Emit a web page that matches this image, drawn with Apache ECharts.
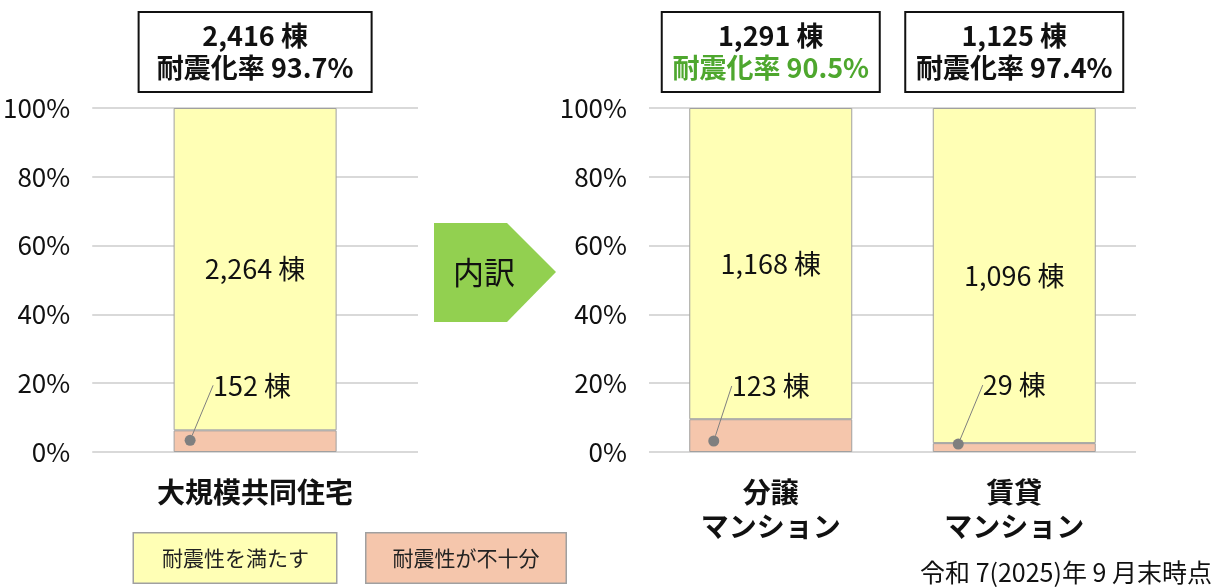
<!DOCTYPE html>
<html lang="ja">
<head>
    <meta charset="UTF-8">
    <title>耐震化率</title>
    <script src="https://cdn.jsdelivr.net/npm/echarts@6/dist/echarts.min.js"></script>
    <style>
        html, body { margin: 0; padding: 0; background: #fff; }
        #main { width: 1222px; height: 588px; }
    </style>
</head>
<body>
<div id="main"></div>
<script type="text/javascript">
    // データ
    var categories = ['大規模共同住宅', '分譲\nマンション', '賃貸\nマンション'];
    var okCounts = [2264, 1168, 1096];   // 耐震性を満たす
    var ngCounts = [152, 123, 29];       // 耐震性が不十分
    var totals = [2416, 1291, 1125];
    var rates = [93.7, 90.5, 97.4];
    var dotPos = [3.4, 3.2, 2.3];        // 引出線の点 (%)
    var yTicks = [0, 20, 40, 60, 80, 100];

    var FONT = "'Liberation Sans Narrow', 'Noto Sans CJK JP', sans-serif";
    var JP = "'Noto Sans CJK JP', sans-serif";
    var YELLOW = '#FFFFB5', PINK = '#F5C6AC', EDGE = '#a0a0a0', GREEN = '#4EA72E';

    function share(i, arr) { return arr[i] / (okCounts[i] + ngCounts[i]) * 100; }
    function fmt(n) { return n.toLocaleString('en-US'); }

    var groups = [[0], [1, 2]];
    var dotOffset = [[-65], [-57, -56]];
    var labelDx = [[62], [57, 56]];
    var labelDy = [[-55], [-55, -59]];
    var xAxes = [], yAxes = [], series = [];

    groups.forEach(function (idx, g) {
        xAxes.push({
            type: 'category', gridIndex: g,
            data: idx.map(function (i) { return categories[i]; }),
            axisLine: {show: false}, axisTick: {show: false},
            axisLabel: {
                margin: 23, fontSize: 28, fontWeight: 'bold', lineHeight: 34,
                fontFamily: JP, color: '#111'
            }
        });
        xAxes.push({
            type: 'category', gridIndex: g, position: 'top',
            data: idx.map(function (i) { return categories[i]; }),
            axisLine: {show: false}, axisTick: {show: false},
            axisLabel: {
                margin: 17, width: g === 0 ? 199 : 184, align: 'center',
                padding: [7, 16, 7, 16], borderColor: '#111', borderWidth: 2,
                backgroundColor: '#fff', lineHeight: 32,
                formatter: function (v, k) {
                    var i = idx[k];
                    var key = i === 1 ? 'g' : 'r';
                    return '{n|' + fmt(totals[i]) + ' 棟}\n{' + key + '|耐震化率 ' + rates[i].toFixed(1) + '%}';
                },
                rich: {
                    n: {fontSize: 27, fontWeight: 'bold', fontFamily: FONT, color: '#111', lineHeight: 32},
                    r: {fontSize: 27, fontWeight: 'bold', fontFamily: FONT, color: '#111', lineHeight: 32},
                    g: {fontSize: 27, fontWeight: 'bold', fontFamily: FONT, color: GREEN, lineHeight: 32}
                }
            }
        });
        yAxes.push({
            type: 'value', gridIndex: g, min: yTicks[0], max: yTicks[yTicks.length - 1], interval: 20,
            axisLine: {show: false}, axisTick: {show: false},
            axisLabel: {margin: 22, fontSize: 26, fontFamily: FONT, color: '#111', formatter: '{value}%'},
            splitLine: {lineStyle: {color: '#d9d9d9', width: 2}}
        });

        series.push({
            name: '耐震性が不十分', type: 'bar', stack: 's' + g,
            xAxisIndex: g * 2, yAxisIndex: g, barWidth: 163,
            data: idx.map(function (i) { return share(i, ngCounts); }),
            itemStyle: {color: PINK, borderColor: EDGE, borderWidth: 1}
        });
        series.push({
            name: '耐震性を満たす', type: 'bar', stack: 's' + g,
            xAxisIndex: g * 2, yAxisIndex: g, barWidth: 163,
            data: idx.map(function (i) { return share(i, okCounts); }),
            itemStyle: {color: YELLOW, borderColor: EDGE, borderWidth: 1},
            label: {
                show: true, position: 'inside', fontSize: 27, fontFamily: FONT, color: '#111',
                formatter: function (p) { return fmt(okCounts[idx[p.dataIndex]]) + ' 棟'; }
            }
        });
        series.push({
            type: 'scatter', xAxisIndex: g * 2, yAxisIndex: g,
            symbolSize: 11, z: 3,
            data: idx.map(function (i, k) {
                return {value: dotPos[i], symbolOffset: [dotOffset[g][k], 0]};
            }),
            itemStyle: {color: '#7f7f7f', opacity: 1},
            label: {
                show: true, position: 'inside', fontSize: 27, fontFamily: FONT, color: '#111',
                formatter: function (p) { return fmt(ngCounts[idx[p.dataIndex]]) + ' 棟'; }
            },
            labelLayout: function (p) {
                return {dx: labelDx[g][p.dataIndex], dy: labelDy[g][p.dataIndex]};
            },
            labelLine: {show: true, lineStyle: {color: '#7f7f7f', width: 1}}
        });
    });

    var chart = echarts.init(document.getElementById('main'));
    chart.setOption({
        animation: false,
        grid: [
            {left: 91, right: 804, top: 108, bottom: 136},
            {left: 649, right: 86, top: 108, bottom: 136}
        ],
        xAxis: xAxes,
        yAxis: yAxes,
        legend: {
            left: 123, top: 527, itemWidth: 0, itemHeight: 0, itemGap: 23,
            selectedMode: false,
            data: [
                {name: '耐震性を満たす', textStyle: {backgroundColor: YELLOW, padding: [14, 27, 14, 28]}},
                {name: '耐震性が不十分', textStyle: {backgroundColor: PINK, padding: [14, 26]}}
            ],
            textStyle: {
                fontSize: 21, fontFamily: JP, color: '#222',
                borderColor: EDGE, borderWidth: 1.5
            }
        },
        graphic: [
            {
                type: 'polygon',
                shape: {points: [[434, 223], [507, 223], [556, 272], [507, 322], [434, 322]]},
                style: {fill: '#92D050'}
            },
            {
                type: 'text', x: 484, y: 272,
                style: {text: '内訳', fontSize: 31, fontFamily: JP, fill: '#111', align: 'center', verticalAlign: 'middle'}
            },
            {
                type: 'text', right: 10, bottom: 3,
                style: {text: '令和 7(2025)年 9 月末時点', fontSize: 25, fontFamily: FONT, fill: '#111'}
            }
        ],
        series: series
    });
</script>
</body>
</html>
